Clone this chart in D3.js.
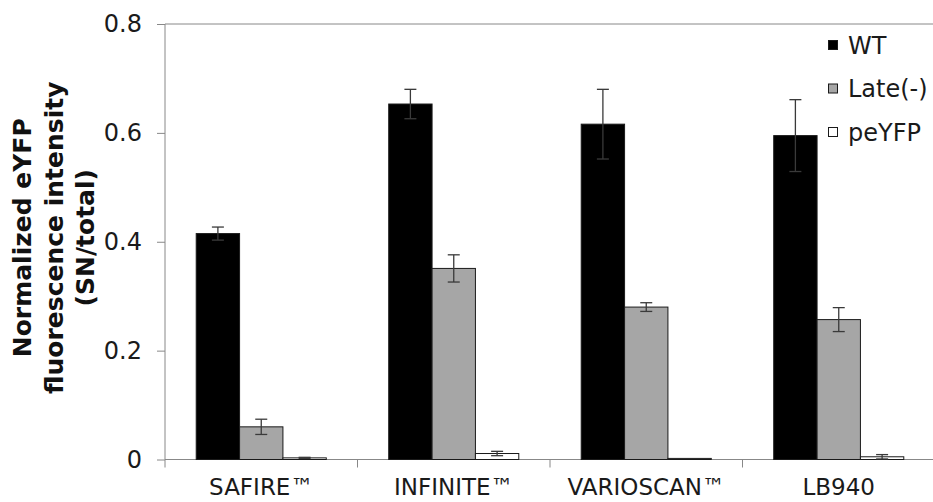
<!DOCTYPE html>
<html>
<head>
<meta charset="utf-8">
<script src="https://cdn.jsdelivr.net/npm/d3@7"></script>
<style>
  body { margin: 0; background: #fff; }
  #chart { width: 933px; height: 502px; overflow: hidden; }
  .axis path, .axis line { stroke: #888; }
  .axis text { font-family: "DejaVu Sans", Verdana, sans-serif; fill: #1a1a1a; }
</style>
</head>
<body>
<div id="chart"></div>
<script>
// data
const categories = ['SAFIRE\u2122', 'INFINITE\u2122', 'VARIOSCAN\u2122', 'LB940'];
const seriesNames = ['WT', 'Late(-)', 'peYFP'];
const wtValues = [0.415, 0.653, 0.616, 0.595];
const wtErrors = [0.012, 0.027, 0.064, 0.066];
const lateValues = [0.060, 0.351, 0.280, 0.257];
const lateErrors = [0.014, 0.025, 0.008, 0.022];
const peyfpValues = [0.003, 0.011, 0.002, 0.005];
const peyfpErrors = [0.001, 0.004, 0.000, 0.004];
const yTicks = [0, 0.2, 0.4, 0.6, 0.8];
const titleLines = ['Normalized eYFP', 'fluorescence intensity', '(SN/total)'];

class GroupedBars {
  constructor(targetDiv) {
    this.targetEle = targetDiv;
    this.width = 933;
    this.height = 502;
    this.colors = d3.scaleOrdinal().domain(seriesNames).range(['#000000', '#a6a6a6', '#ffffff']);
    this.rows = [];
    const vals = [wtValues, lateValues, peyfpValues];
    const errs = [wtErrors, lateErrors, peyfpErrors];
    categories.forEach((c, i) => {
      seriesNames.forEach((s, j) => {
        this.rows.push({ cat: c, series: s, value: vals[j][i], err: errs[j][i] });
      });
    });
  }

  setupPlot() {
    const margin = { top: 24, left: 165, bottom: 42.5 };
    const w = 770;
    const h = this.height - margin.top - margin.bottom;

    this.svg = d3.select(this.targetEle).append('svg')
      .attr('width', this.width)
      .attr('height', this.height)
      .append('g')
      .attr('transform', `translate(${margin.left}, ${margin.top})`);

    this.xScale = d3.scaleBand()
      .domain(categories)
      .range([0, w])
      .padding(0);

    this.xInner = d3.scaleBand()
      .domain(seriesNames)
      .range([0, this.xScale.bandwidth()])
      .paddingInner(0)
      .paddingOuter(0.72);

    this.yScale = d3.scaleLinear()
      .domain([0, 0.8])
      .range([h, 0]);

    // line across the top at 0.8
    this.svg.append('line')
      .attr('x1', 0).attr('x2', w)
      .attr('y1', this.yScale(0.8)).attr('y2', this.yScale(0.8))
      .attr('stroke', '#888');

    // y-axis
    const yAxis = d3.axisLeft(this.yScale)
      .tickValues(yTicks)
      .tickSize(8)
      .tickPadding(15)
      .tickFormat(d => d === 0 ? '0' : d3.format('.1f')(d));
    const gy = this.svg.append('g').attr('class', 'axis').call(yAxis);
    gy.select('.domain').attr('d', `M0,${h}V0`);
    gy.selectAll('text').style('font-size', '24px');

    // x-axis, ticks on the category boundaries
    const xAxis = d3.axisBottom(this.xScale).tickSize(0).tickPadding(19);
    const gx = this.svg.append('g')
      .attr('class', 'axis')
      .attr('transform', `translate(0, ${h})`)
      .call(xAxis);
    gx.select('.domain').attr('d', `M0,0H${w}`);
    gx.selectAll('text').style('font-size', '23px').attr('dy', '0.71em');
    gx.selectAll('.boundary')
      .data(categories.concat(['end']))
      .enter().append('line')
      .attr('class', 'boundary')
      .attr('x1', (d, i) => i * this.xScale.step())
      .attr('x2', (d, i) => i * this.xScale.step())
      .attr('y1', 0).attr('y2', 8)
      .attr('stroke', '#888');

    // y title
    this.svg.append('text')
      .attr('transform', `translate(${-134}, ${h / 2 - 4}) rotate(-90)`)
      .attr('text-anchor', 'middle')
      .style('font-family', '"DejaVu Sans", Verdana, sans-serif')
      .style('font-weight', 'bold')
      .style('font-size', '25px')
      .style('fill', '#111')
      .selectAll('tspan')
      .data(titleLines)
      .enter().append('tspan')
      .attr('x', 0)
      .attr('dy', (d, i) => i === 0 ? 0 : 31.5)
      .text(d => d);

    this.h = h;
  }

  draw() {
    const self = this;
    const groups = this.svg.selectAll('.bar')
      .data(this.rows)
      .enter().append('g')
      .attr('class', 'bar')
      .attr('transform', d => `translate(${self.xScale(d.cat) + self.xInner(d.series)}, 0)`);

    groups.append('rect')
      .attr('y', d => self.yScale(d.value))
      .attr('height', d => self.h - self.yScale(d.value))
      .attr('width', self.xInner.bandwidth())
      .style('fill', d => self.colors(d.series))
      .style('stroke', '#1a1a1a')
      .style('stroke-width', 1);

    // error bars
    const bw = self.xInner.bandwidth();
    const errs = groups.filter(d => d.err > 0).append('g').attr('stroke', '#3a3a3a').attr('stroke-width', 1.3);
    errs.append('line')
      .attr('x1', bw / 2).attr('x2', bw / 2)
      .attr('y1', d => self.yScale(d.value + d.err))
      .attr('y2', d => self.yScale(Math.max(0, d.value - d.err)));
    errs.append('line')
      .attr('x1', bw / 2 - 6).attr('x2', bw / 2 + 6)
      .attr('y1', d => self.yScale(d.value + d.err))
      .attr('y2', d => self.yScale(d.value + d.err));
    errs.append('line')
      .attr('x1', bw / 2 - 6).attr('x2', bw / 2 + 6)
      .attr('y1', d => self.yScale(Math.max(0, d.value - d.err)))
      .attr('y2', d => self.yScale(Math.max(0, d.value - d.err)));

    // legend
    const legend = this.svg.append('g')
      .attr('transform', `translate(${828 - 165}, ${45 - 24})`);
    const items = legend.selectAll('.legend-item')
      .data(seriesNames)
      .enter().append('g')
      .attr('class', 'legend-item')
      .attr('transform', (d, i) => `translate(0, ${i * 43.5})`);
    items.append('rect')
      .attr('x', 0.5).attr('y', -4.5)
      .attr('width', 9).attr('height', 9)
      .style('fill', d => self.colors(d))
      .style('stroke', '#1a1a1a');
    items.append('text')
      .attr('x', 20)
      .attr('dy', '0.36em')
      .style('font-family', '"DejaVu Sans", Verdana, sans-serif')
      .style('font-size', '24px')
      .style('fill', '#1a1a1a')
      .text(d => d);
  }
}

const plot = new GroupedBars('#chart');
plot.setupPlot();
plot.draw();
</script>
</body>
</html>
